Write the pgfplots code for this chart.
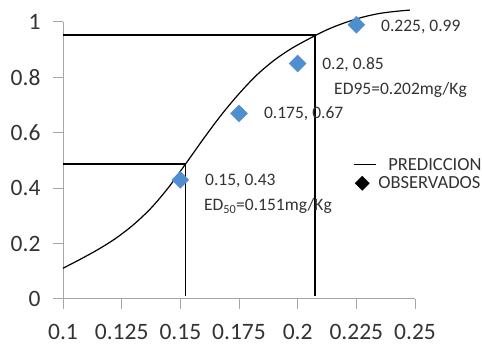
\documentclass[border=0pt]{standalone}
\usepackage{fontspec}
\setmainfont{Carlito}
\usepackage{pgfplots}
\pgfplotsset{compat=1.18}
\pgfplotsset{myleg/.style={legend image code/.code={\draw[##1] (0pt,0pt) -- (22pt,0pt);}}}
\definecolor{obsblue}{HTML}{4F8FCF}
\definecolor{txt}{HTML}{333333}
\definecolor{axgray}{HTML}{A6A6A6}
\newcommand{\tickfont}{\fontsize{23.5}{27}\selectfont}
\newcommand{\annfont}{\fontsize{17.5}{21}\selectfont}
\newcommand{\legfont}{\fontsize{18.5}{21}\selectfont}
\begin{document}
\begin{tikzpicture}
\useasboundingbox (0,0) rectangle (482pt,344pt);
\begin{axis}[
  at={(63pt,45pt)}, anchor=south west,
  scale only axis, width=352pt, height=277pt,
  xmin=0.1, xmax=0.25, ymin=0, ymax=1,
  clip=false,
  axis x line*=bottom, axis y line*=left,
  axis line style={axgray, line width=1pt, -},
  tick style={axgray, line width=1pt},
  tick align=outside, major tick length=10pt,
  xtick={0.1,0.125,0.15,0.175,0.2,0.225,0.25},
  xticklabels={0.1,0.125,0.15,0.175,0.2,0.225,0.25},
  ytick={0,0.2,0.4,0.6,0.8,1},
  yticklabels={0,0.2,0.4,0.6,0.8,1},
  /pgf/number format/assume math mode=true,
  ticklabel style={font=\tickfont, text=txt},
  xticklabel style={yshift=-12pt},
  yticklabel style={xshift=-9pt},
  legend style={at={(0.815,0.451)}, anchor=west, draw=none, fill=none,
    font=\legfont, text=txt, row sep=1pt},
  legend cell align=left,
]
\addlegendimage{black, line width=1.2pt, myleg}
\addlegendentry{\hspace{10pt}PREDICCION}
\addlegendimage{only marks, mark=square*, mark size=5pt, mark options={rotate=45, fill=black, draw=black}}
\addlegendentry{OBSERVADOS}

\addplot[black, line width=1.2pt, smooth, forget plot] coordinates {
(0.1,0.111) (0.1075,0.144) (0.115,0.179) (0.1225,0.219) (0.13,0.268)
(0.1375,0.328) (0.145,0.403) (0.1522,0.487) (0.16,0.580) (0.1675,0.665)
(0.175,0.741) (0.1825,0.808) (0.19,0.862) (0.1975,0.905) (0.205,0.940)
(0.2125,0.972) (0.22,0.997) (0.2275,1.017) (0.235,1.031) (0.2425,1.039)
(0.2478,1.043)};
\addplot[black, line width=1.2pt, forget plot] coordinates {(0.1,0.487) (0.1522,0.487) (0.1522,0.01)};
\addplot[black, line width=1.2pt, forget plot] coordinates {(0.1,0.953) (0.2074,0.953) (0.2074,0.01)};
\addplot[only marks, mark=square*, mark size=6pt, mark options={rotate=45, fill=obsblue, draw=obsblue}, forget plot]
  coordinates {(0.15,0.43) (0.175,0.67) (0.2,0.85) (0.225,0.99)};

\node[anchor=west, inner sep=0pt, font=\annfont, text=txt] at (axis cs:0.2355,0.982) {0.225, 0.99};
\node[anchor=west, inner sep=0pt, font=\annfont, text=txt] at (axis cs:0.2104,0.845) {0.2, 0.85};
\node[anchor=west, inner sep=0pt, font=\annfont, text=txt] at (axis cs:0.2155,0.755) {ED95=0.202mg/Kg};
\node[anchor=west, inner sep=0pt, font=\annfont, text=txt] at (axis cs:0.1856,0.668) {0.175, 0.67};
\node[anchor=west, inner sep=0pt, font=\annfont, text=txt] at (axis cs:0.1605,0.426) {0.15, 0.43};
\node[anchor=west, inner sep=0pt, font=\annfont, text=txt] at (axis cs:0.1600,0.336) {ED\textsubscript{50}=0.151mg/Kg};
\end{axis}
\end{tikzpicture}
\end{document}
